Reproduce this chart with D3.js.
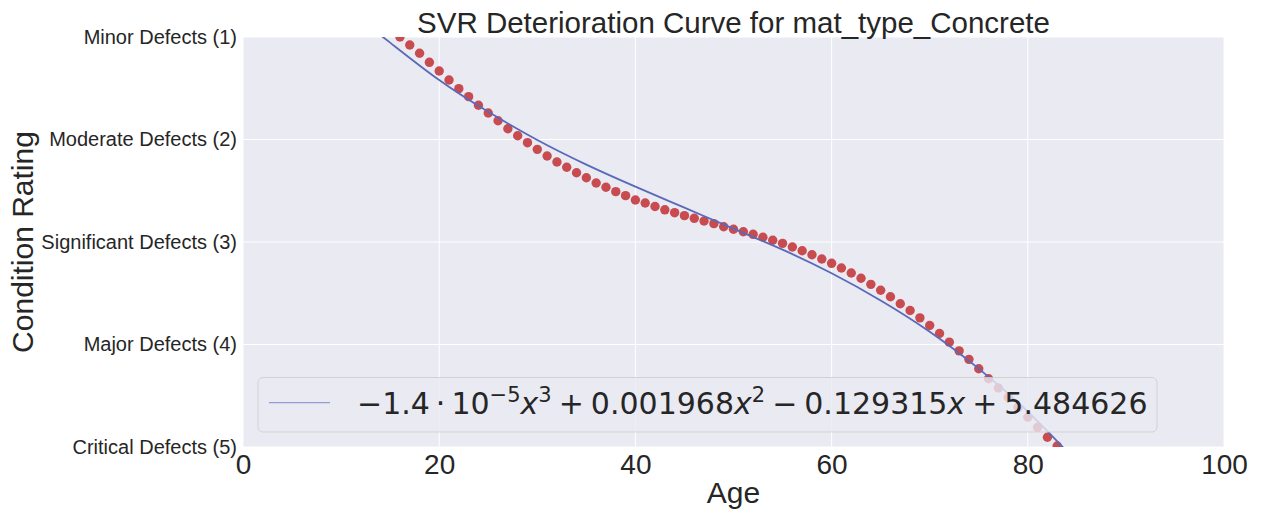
<!DOCTYPE html>
<html>
<head>
<meta charset="utf-8">
<script src="https://cdn.jsdelivr.net/npm/d3@7"></script>
<style>
  body { margin: 0; background: #fff; }
  text { font-family: "Liberation Sans", Arial, sans-serif; fill: #262626; }
</style>
</head>
<body>
<div id="chart"></div>
<script>
// observed condition ratings by age (dots)
var ages = [16,17,18,19,20,21,22,23,24,25,26,27,28,29,30,31,32,33,34,35,36,37,38,39,40,
            41,42,43,44,45,46,47,48,49,50,51,52,53,54,55,56,57,58,59,60,61,62,63,64,65,
            66,67,68,69,70,71,72,73,74,75,76,77,78,79,80,81,82,83];
var ratings = [1.00,1.078,1.159,1.247,1.332,1.420,1.504,1.582,1.666,1.741,1.817,1.895,1.963,2.031,2.096,
               2.161,2.220,2.271,2.324,2.373,2.424,2.466,2.509,2.548,2.590,2.620,2.654,2.686,2.714,2.743,
               2.769,2.795,2.821,2.851,2.876,2.900,2.925,2.954,2.983,3.013,3.049,3.085,3.124,3.166,3.208,
               3.254,3.302,3.354,3.413,3.471,3.534,3.602,3.668,3.740,3.815,3.893,3.977,4.062,4.145,4.237,
               4.334,4.424,4.515,4.613,4.710,4.808,4.905,4.990];

// fitted curve
var fitAges = [13,15,20,25,30,35,40,45,50,55,60,65,70,75,80,85];
var fitRatings = [0.91,1.055,1.42,1.73,2.005,2.245,2.46,2.665,2.87,3.075,3.305,3.57,3.875,4.235,4.655,5.145];

var yTickValues = [1,2,3,4,5];
var yTickLabels = ["Minor Defects (1)","Moderate Defects (2)","Significant Defects (3)","Major Defects (4)","Critical Defects (5)"];
var xTickValues = [0,20,40,60,80,100];

var W = 1263, H = 512;
var pLeft = 243, pRight = 1224, pTop = 37, pBottom = 447;

var svg = d3.select("#chart").append("svg")
    .attr("width", W).attr("height", H);

var x = d3.scaleLinear().domain([0,100]).range([pLeft,pRight]);
var y = d3.scaleLinear().domain([1,5]).range([pTop,pBottom]);

svg.append("rect")
    .attr("x", pLeft).attr("y", pTop)
    .attr("width", pRight-pLeft).attr("height", pBottom-pTop)
    .attr("fill", "#eaeaf2");

svg.append("clipPath").attr("id","plotclip")
  .append("rect")
    .attr("x", pLeft).attr("y", pTop)
    .attr("width", pRight-pLeft).attr("height", pBottom-pTop);

// grid
svg.selectAll(".vgrid").data(xTickValues).enter()
  .append("line")
    .attr("x1", function(d){ return x(d); }).attr("x2", function(d){ return x(d); })
    .attr("y1", pTop).attr("y2", pBottom)
    .attr("stroke", "#fff").attr("stroke-width", 1);
svg.selectAll(".hgrid").data(yTickValues).enter()
  .append("line")
    .attr("y1", function(d){ return y(d); }).attr("y2", function(d){ return y(d); })
    .attr("x1", pLeft).attr("x2", pRight)
    .attr("stroke", "#fff").attr("stroke-width", 1);

// axes (no domain line, no tick marks)
var xAxis = svg.append("g")
    .attr("transform", "translate(0," + pBottom + ")")
    .call(d3.axisBottom(x).tickValues(xTickValues).tickSize(0).tickPadding(7));
xAxis.select(".domain").remove();
xAxis.selectAll("text").style("font-size", "28px")
    .style("font-family", "'Liberation Sans', Arial, sans-serif").attr("fill", "#262626");

var yAxis = svg.append("g")
    .attr("transform", "translate(" + pLeft + ",0)")
    .call(d3.axisLeft(y).tickValues(yTickValues).tickSize(0).tickPadding(6)
          .tickFormat(function(d, i){ return yTickLabels[i]; }));
yAxis.select(".domain").remove();
yAxis.selectAll("text").style("font-size", "20px")
    .style("font-family", "'Liberation Sans', Arial, sans-serif").attr("fill", "#262626");

var plot = svg.append("g").attr("clip-path", "url(#plotclip)");

plot.selectAll("circle").data(ages).enter()
  .append("circle")
    .attr("cx", function(d){ return x(d); })
    .attr("cy", function(d, i){ return y(ratings[i]); })
    .attr("r", 4.7)
    .attr("fill", "#c84b4f");

var line = d3.line()
    .x(function(d){ return x(d); })
    .y(function(d, i){ return y(fitRatings[i]); })
    .curve(d3.curveNatural);

plot.append("path")
    .datum(fitAges)
    .attr("d", line)
    .attr("fill", "none")
    .attr("stroke", "#5a69b9")
    .attr("stroke-width", 1.8);

// titles
svg.append("text")
    .attr("x", (pLeft+pRight)/2).attr("y", 33)
    .attr("text-anchor", "middle")
    .style("font-size", "29.5px")
    .text("SVR Deterioration Curve for mat_type_Concrete");

svg.append("text")
    .attr("x", (pLeft+pRight)/2).attr("y", 503)
    .attr("text-anchor", "middle")
    .style("font-size", "30px")
    .text("Age");

svg.append("text")
    .attr("transform", "translate(33," + (pTop+pBottom)/2 + ") rotate(-90)")
    .attr("text-anchor", "middle")
    .style("font-size", "30px")
    .text("Condition Rating");

// legend
var legend = svg.append("g");
legend.append("rect")
    .attr("x", 258).attr("y", 377.5)
    .attr("width", 899).attr("height", 54.5)
    .attr("rx", 5).attr("ry", 5)
    .attr("fill", "#eaeaf2").attr("fill-opacity", 0.8)
    .attr("stroke", "#cccccc").attr("stroke-opacity", 0.8);
legend.append("line")
    .attr("x1", 269).attr("x2", 330)
    .attr("y1", 402.7).attr("y2", 402.7)
    .attr("stroke", "#5a69b9").attr("stroke-width", 1.2).attr("stroke-opacity", 0.6);

var lt = legend.append("text")
    .attr("x", 357).attr("y", 413.5)
    .style("font-family", "'DejaVu Sans', sans-serif")
    .style("font-size", "30px");

var parts = [
  {t: "\u22121.4"},
  {t: "\u00b7", dx: 6},
  {t: "10", dx: 6},
  {t: "\u22125", sup: true},
  {t: "x", it: true},
  {t: "3", sup: true},
  {t: "+", dx: 7},
  {t: "0.001968", dx: 7},
  {t: "x", it: true},
  {t: "2", sup: true},
  {t: "\u2212", dx: 7},
  {t: "0.129315", dx: 7},
  {t: "x", it: true},
  {t: "+", dx: 7},
  {t: "5.484626", dx: 7}
];
var raised = false;
parts.forEach(function(p){
  var s = lt.append("tspan").text(p.t);
  var dy = 0;
  if (p.sup && !raised) { dy = -12; raised = true; }
  else if (!p.sup && raised) { dy = 12; raised = false; }
  if (dy) s.attr("dy", dy);
  if (p.dx) s.attr("dx", p.dx);
  if (p.sup) s.style("font-size", "21px");
  if (p.it) s.style("font-style", "italic");
});
</script>
</body>
</html>
